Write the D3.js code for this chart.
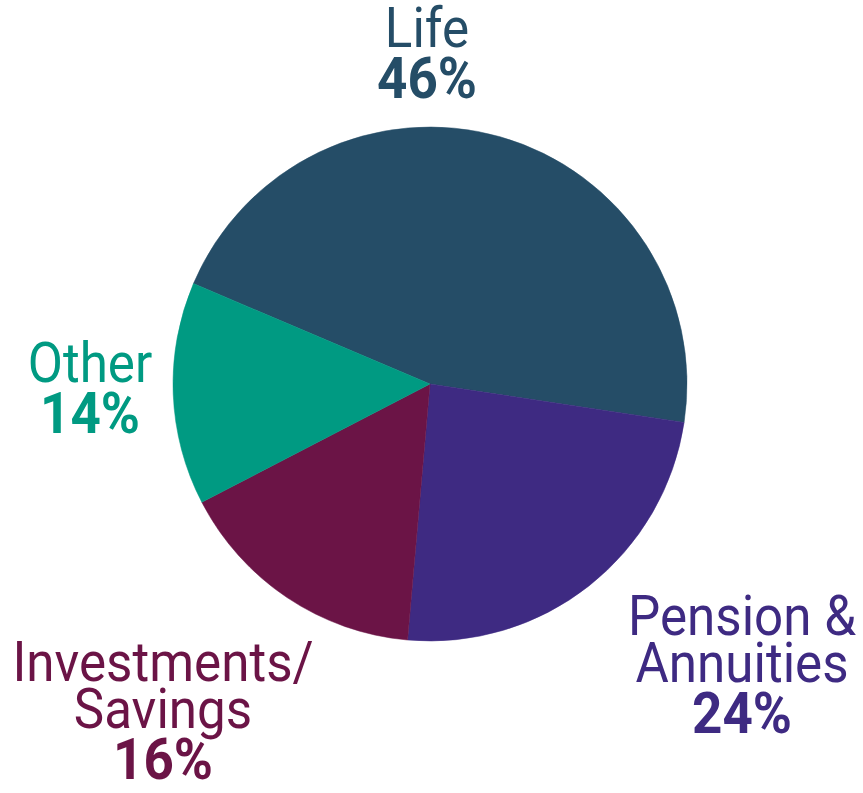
<!DOCTYPE html>
<html>
<head>
<meta charset="utf-8">
<script src="https://cdn.jsdelivr.net/npm/d3@7"></script>
<style>
  body { margin: 0; background: #fff; }
  svg text { font-family: Roboto, "Noto Sans", sans-serif; }
</style>
</head>
<body>
<svg id="pie-svg" width="863" height="793"></svg>
<script>
// chart data
const categories = ["Life", "Pension & Annuities", "Investments/Savings", "Other"];
const shares = [46, 24, 16, 14];
const labelLines = [["Life"], ["Pension &", "Annuities"], ["Investments/", "Savings"], ["Other"]];
const colors = ["#254d67", "#3e2a82", "#6b1446", "#009a82"];

// layout
const WIDTH = 863, HEIGHT = 793;
const CX = 430, CY = 384, RADIUS = 257;
// label anchor (baseline of first line, center x) for each slice
const labelAnchor = [[427, 47], [742, 635], [163, 681], [90, 382]];
const LINE_H = 47;

const dataset = categories.map((c, i) => ({name: c, value: shares[i], lines: labelLines[i], color: colors[i]}));

const svg = d3.select("#pie-svg");
const chart = svg.append("g").attr("transform", `translate(${CX}, ${CY})`);

const pie = d3.pie()
  .sort(null)
  .value(d => d.value)
  .startAngle(-67 * Math.PI / 180)
  .endAngle((360 - 67) * Math.PI / 180);

const arc = d3.arc().innerRadius(0).outerRadius(RADIUS);

chart.selectAll("path")
  .data(pie(dataset))
  .join("path")
  .attr("d", arc)
  .attr("fill", d => d.data.color)
  .attr("stroke", d => d.data.color)
  .attr("stroke-width", 0.5);

// labels
const labels = svg.append("g").attr("id", "labels");

dataset.forEach((d, i) => {
  const g = labels.append("g")
    .attr("transform", `translate(${labelAnchor[i][0]}, ${labelAnchor[i][1]}) scale(0.93, 1)`)
    .style("fill", d.color)
    .style("text-anchor", "middle");

  d.lines.forEach((line, j) => {
    g.append("text")
      .attr("x", 0)
      .attr("y", j * LINE_H)
      .style("font-size", "55px")
      .text(line);
  });

  g.append("text")
    .attr("x", 0)
    .attr("y", d.lines.length * LINE_H + 4)
    .style("font-size", "57px")
    .style("font-weight", "bold")
    .text(d.value + "%");
});
</script>
</body>
</html>
